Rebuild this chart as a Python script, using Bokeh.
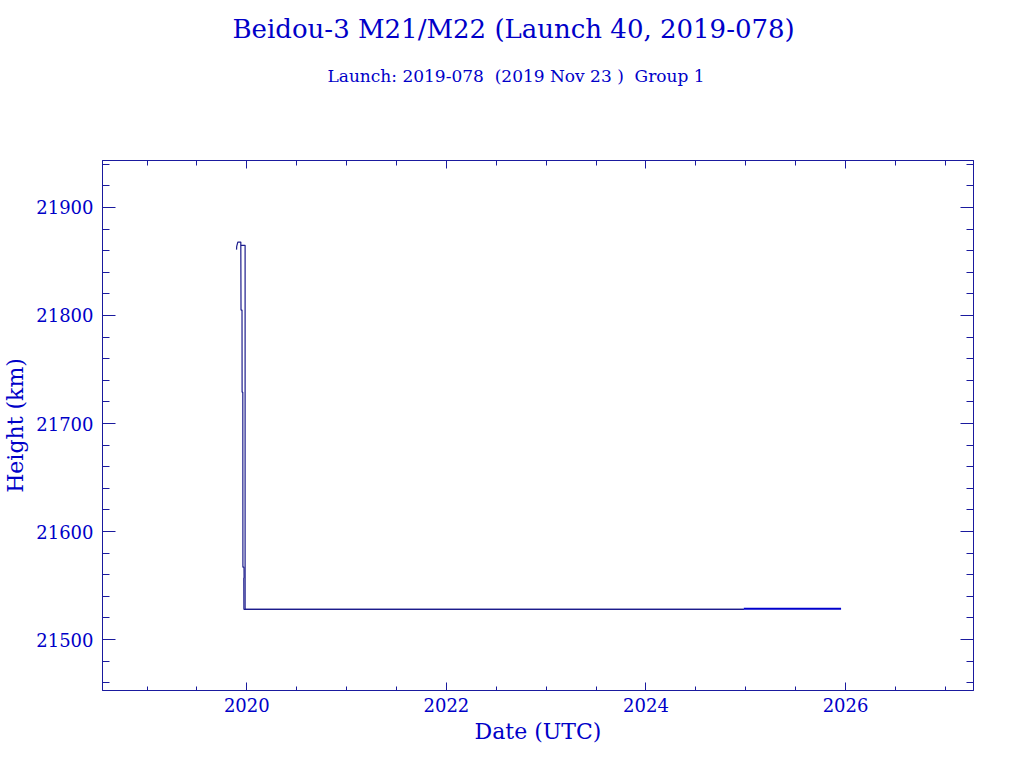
from bokeh.plotting import figure
from bokeh.models import (Range1d, LinearAxis, SingleIntervalTicker, FixedTicker, Title,
                          CustomJSTickFormatter)
from bokeh.embed import file_html
from bokeh.resources import INLINE

# ---- data (decimal year, height km) ----
m21_t = [2019.897, 2019.899, 2019.910, 2019.940, 2019.940, 2019.983, 2019.983, 2024.980]
m21_h = [21861, 21864, 21868, 21868, 21865, 21865, 21528, 21528]

m22_t = [2019.940, 2019.942, 2019.952, 2019.953, 2019.960, 2019.961, 2019.972, 2019.973, 2019.970, 2019.971, 2024.980]
m22_h = [21865, 21805, 21805, 21729, 21729, 21567, 21567, 21557, 21557, 21528, 21528]

recent_t = [2024.980, 2025.955]
recent_h = [21528.5, 21528.5]

x_start, x_end = 2018.554, 2027.282
y_start, y_end = 21452.8, 21943.5

title_text = "Beidou-3 M21/M22 (Launch 40, 2019-078)"
subtitle_text = "Launch: 2019-078\u00a0 (2019 Nov 23 )\u00a0 Group 1"
x_label = "Date (UTC)"
y_label = "Height (km)"

AX = "#1a1a9e"
TXT = "#0000c8"
FONT = "DejaVu Serif"

W, H = 1024, 768
BL, BR, BT, BB = 102, 51, 160, 78

p = figure(width=W, height=H, output_backend="svg", toolbar_location=None,
           title_location=None,
           x_range=Range1d(x_start, x_end), y_range=Range1d(y_start, y_end),
           x_axis_type=None, y_axis_type=None,
           min_border_left=BL, min_border_right=BR, min_border_top=BT, min_border_bottom=BB)
p.background_fill_color = "white"
p.border_fill_color = "white"
p.outline_line_color = AX
p.outline_line_width = 1
p.xgrid.visible = False
p.ygrid.visible = False

xt = SingleIntervalTicker(interval=2, num_minor_ticks=4)
yt = SingleIntervalTicker(interval=100, num_minor_ticks=5)
fmt = CustomJSTickFormatter(code="return Math.round(tick).toString();")
blank = CustomJSTickFormatter(code="return '';")


def style(ax, major_in, minor_in):
    ax.axis_line_color = AX
    ax.major_tick_line_color = AX
    ax.minor_tick_line_color = AX
    ax.major_tick_in = major_in
    ax.major_tick_out = 0
    ax.minor_tick_in = minor_in
    ax.minor_tick_out = 0
    ax.major_label_text_font = FONT
    ax.axis_label_text_font = FONT
    ax.major_label_text_color = TXT
    ax.axis_label_text_color = TXT
    ax.axis_label_text_font_style = "normal"


def spacer(size):
    # invisible axis used only to reserve vertical room above the frame
    ax = LinearAxis(ticker=FixedTicker(ticks=[2020], minor_ticks=[]), formatter=blank)
    ax.axis_line_color = None
    ax.major_tick_line_color = None
    ax.minor_tick_line_color = None
    ax.major_tick_in = 0
    ax.major_tick_out = size
    ax.minor_tick_in = 0
    ax.minor_tick_out = 0
    ax.major_label_standoff = 0
    ax.major_label_text_font_size = "1px"
    return ax


xb = LinearAxis(ticker=xt, formatter=fmt, axis_label=x_label)
style(xb, 8, 4)
xb.major_label_text_font_size = "18px"
xb.major_label_standoff = 7
xb.axis_label_text_font_size = "22px"
xb.axis_label_standoff = 4
p.add_layout(xb, "below")

yl = LinearAxis(ticker=yt, formatter=fmt, axis_label=y_label)
style(yl, 13, 7)
yl.major_label_text_font_size = "18px"
yl.major_label_standoff = 9
yl.axis_label_text_font_size = "22px"
yl.axis_label_standoff = 5
p.add_layout(yl, "left")

yr = LinearAxis(ticker=yt, formatter=blank)
style(yr, 13, 7)
yr.major_label_standoff = 0
p.add_layout(yr, "right")

xa = LinearAxis(ticker=xt, formatter=blank)
style(xa, 8, 5)
xa.major_label_standoff = 0
p.add_layout(xa, "above")

# stacked outward from the frame: spacer, subtitle, spacer, title
p.add_layout(spacer(75), "above")
p.add_layout(Title(text=subtitle_text, align="left", offset=225, standoff=0,
                   vertical_align="bottom", text_font=FONT, text_font_size="17px",
                   text_color=TXT, text_font_style="normal"), "above")
p.add_layout(spacer(20), "above")
p.add_layout(Title(text=title_text, align="left", offset=130, standoff=0,
                   vertical_align="bottom", text_font=FONT, text_font_size="26px",
                   text_color=TXT, text_font_style="normal"), "above")

p.line(m21_t, m21_h, line_color="#1c1c8c", line_width=1.2)
p.line(m22_t, m22_h, line_color="#1c1c8c", line_width=1.2)
p.line(recent_t, recent_h, line_color="#0000cc", line_width=2)

open("out.html", "w").write(file_html(p, INLINE))
